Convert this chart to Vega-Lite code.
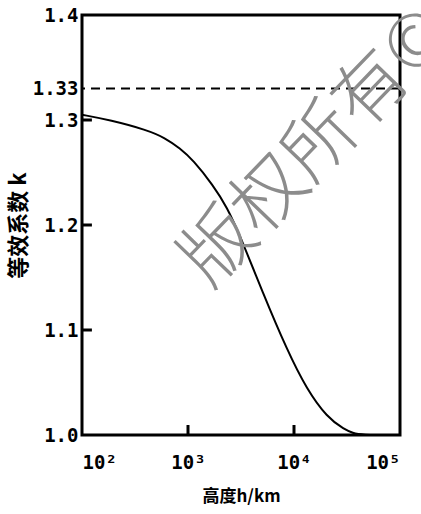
{
  "$schema": "https://vega.github.io/schema/vega-lite/v6.json",
  "width": 318,
  "height": 420,
  "autosize": {"type": "none"},
  "padding": {"left": 82, "top": 15, "right": 21, "bottom": 79},
  "background": "white",
  "config": {
    "view": {"stroke": "black", "strokeWidth": 3},
    "axis": {"grid": false, "domain": false, "labelFont": "DejaVu Sans Mono", "labelFontWeight": "bold", "labelColor": "black", "titleColor": "black"}
  },
  "datasets": {
    "curve": [
      {"h": 100, "k": 1.305},
      {"h": 184, "k": 1.3},
      {"h": 410, "k": 1.2905},
      {"h": 607, "k": 1.283},
      {"h": 841, "k": 1.273},
      {"h": 1114, "k": 1.262},
      {"h": 1722, "k": 1.238},
      {"h": 2333, "k": 1.217},
      {"h": 3097, "k": 1.19},
      {"h": 5100, "k": 1.135},
      {"h": 8590, "k": 1.081},
      {"h": 13280, "k": 1.043},
      {"h": 20470, "k": 1.017},
      {"h": 30000, "k": 1.005},
      {"h": 36100, "k": 1.002},
      {"h": 41900, "k": 1.0},
      {"h": 100000, "k": 1.0}
    ],
    "ref": [{"k": 1.33}],
    "xticks": [{"h": 1000}, {"h": 10000}],
    "yticks": [{"k": 1.1}, {"k": 1.2}, {"k": 1.3}],
    "mark": [{"h": 16480, "k": 1.2735, "text": "版权所有©"}]
  },
  "layer": [
    {
      "data": {"name": "ref"},
      "mark": {"type": "rule", "color": "black", "strokeWidth": 2, "strokeDash": [9, 6]},
      "encoding": {
        "y": {"field": "k", "type": "quantitative", "scale": {"domain": [1.0, 1.4], "nice": false, "zero": false}}
      }
    },
    {
      "data": {"name": "xticks"},
      "mark": {"type": "rule", "color": "black", "strokeWidth": 3, "clip": false},
      "encoding": {
        "x": {"field": "h", "type": "quantitative", "scale": {"type": "log", "domain": [100, 100000], "nice": false}},
        "y": {"datum": 1.0},
        "y2": {"datum": 1.0095}
      }
    },
    {
      "data": {"name": "yticks"},
      "mark": {"type": "rule", "color": "black", "strokeWidth": 3, "clip": false},
      "encoding": {
        "y": {"field": "k", "type": "quantitative"},
        "x": {"datum": 100},
        "x2": {"datum": 124}
      }
    },
    {
      "data": {"name": "curve"},
      "mark": {"type": "line", "color": "black", "strokeWidth": 2, "interpolate": "basis"},
      "encoding": {
        "x": {
          "field": "h", "type": "quantitative",
          "axis": {
            "orient": "bottom",
            "values": [100, 1000, 10000, 100000],
            "labelExpr": "datum.value == 100 ? '10²' : datum.value == 1000 ? '10³' : datum.value == 10000 ? '10⁴' : '10⁵'",
            "ticks": false, "labelPadding": 18, "labelFontSize": 19,
            "title": "高度h/km", "titleFont": "Noto Sans CJK SC", "titleFontWeight": "bold", "titleFontSize": 17, "titlePadding": 16
          }
        },
        "y": {
          "field": "k", "type": "quantitative",
          "axis": {
            "orient": "left",
            "values": [1.0, 1.1, 1.2, 1.3, 1.33, 1.4],
            "labelExpr": "datum.value == 1.33 ? '1.33' : format(datum.value, '.1f')",
            "ticks": false, "labelPadding": 4, "labelFontSize": 19,
            "title": "等效系数 k", "titleFont": "Noto Sans CJK SC", "titleFontWeight": "bold", "titleFontSize": 22, "titlePadding": 2
          }
        }
      }
    },
    {
      "data": {"name": "mark"},
      "mark": {"type": "text", "color": "#8c8c8c", "fontSize": 73, "fontWeight": 300, "angle": -46, "font": "Noto Sans CJK SC", "align": "center", "baseline": "middle"},
      "encoding": {
        "x": {"field": "h", "type": "quantitative"},
        "y": {"field": "k", "type": "quantitative"},
        "text": {"field": "text"}
      }
    }
  ]
}
